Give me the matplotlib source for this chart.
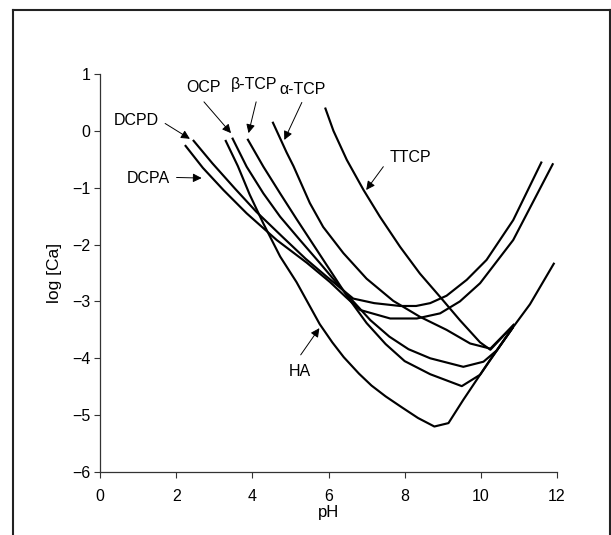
import numpy as np
import matplotlib
matplotlib.use('Agg')
import matplotlib.pyplot as plt
from matplotlib.lines import Line2D

plt.rcParams['font.family'] = ['Liberation Sans', 'DejaVu Sans']
plt.rcParams['font.size'] = 11.5

# solubility isotherms (pH, log[Ca])
ph_dcpd = [2.44, 2.95, 3.55, 4.10, 4.80, 5.40, 5.98, 6.65, 7.20, 7.88, 8.30, 8.67, 9.10, 9.63, 10.15, 10.85, 11.60]
ca_dcpd = [-0.16, -0.57, -1.02, -1.42, -1.87, -2.25, -2.58, -2.95, -3.03, -3.08, -3.08, -3.03, -2.90, -2.62, -2.27, -1.57, -0.54]

ph_dcpa = [2.23, 2.70, 3.24, 3.85, 4.64, 5.43, 6.04, 6.45, 6.83, 7.62, 8.32, 8.93, 9.45, 9.98, 10.85, 11.90]
ca_dcpa = [-0.25, -0.65, -1.04, -1.45, -1.92, -2.32, -2.66, -2.92, -3.15, -3.30, -3.30, -3.21, -3.00, -2.68, -1.92, -0.57]

ph_ocp = [3.47, 3.85, 4.29, 4.73, 5.25, 5.78, 6.22, 6.65, 7.10, 7.60, 8.10, 8.67, 9.54, 10.07, 10.42, 10.85]
ca_ocp = [-0.12, -0.63, -1.10, -1.51, -1.92, -2.33, -2.68, -3.00, -3.33, -3.62, -3.84, -4.00, -4.15, -4.06, -3.86, -3.45]

ph_btcp = [3.87, 4.29, 4.73, 5.16, 5.60, 6.04, 6.50, 7.00, 7.50, 8.00, 8.67, 9.50, 9.98, 10.30, 10.85]
ca_btcp = [-0.14, -0.63, -1.10, -1.55, -2.00, -2.45, -2.92, -3.38, -3.75, -4.05, -4.28, -4.49, -4.29, -3.98, -3.45]

ph_atcp = [4.53, 4.90, 5.08, 5.51, 5.86, 6.39, 7.00, 7.70, 8.40, 9.10, 9.72, 10.25, 10.88]
ca_atcp = [0.16, -0.38, -0.62, -1.27, -1.69, -2.15, -2.60, -2.99, -3.27, -3.50, -3.74, -3.83, -3.40]

ph_ttcp = [5.91, 6.13, 6.48, 6.92, 7.35, 7.88, 8.40, 8.93, 9.45, 9.98, 10.25, 10.88]
ca_ttcp = [0.41, 0.00, -0.51, -1.04, -1.51, -2.04, -2.51, -2.92, -3.33, -3.72, -3.85, -3.40]

ph_ha = [3.29, 3.62, 3.93, 4.29, 4.73, 5.16, 5.77, 6.10, 6.40, 6.80, 7.13, 7.50, 7.92, 8.35, 8.78, 9.15, 9.54, 10.24, 10.85, 11.29, 11.93]
ca_ha = [-0.16, -0.62, -1.12, -1.63, -2.21, -2.66, -3.40, -3.72, -3.98, -4.27, -4.48, -4.67, -4.86, -5.05, -5.20, -5.14, -4.73, -4.03, -3.45, -3.05, -2.32]

curves = [(ph_dcpd, ca_dcpd), (ph_dcpa, ca_dcpa), (ph_ocp, ca_ocp), (ph_btcp, ca_btcp),
          (ph_atcp, ca_atcp), (ph_ttcp, ca_ttcp), (ph_ha, ca_ha)]

# label text position, arrow tail, arrow tip
labels = ['DCPD', 'DCPA', 'OCP', 'β-TCP', 'α-TCP', 'TTCP', 'HA']
label_xy = [(0.95, 0.19), (1.27, -0.83), (2.73, 0.77), (4.04, 0.81), (5.33, 0.72), (8.14, -0.46), (5.25, -4.24)]
arrow_from = [(1.71, 0.13), (2.01, -0.82), (2.73, 0.51), (4.10, 0.51), (5.30, 0.50), (7.44, -0.63), (5.27, -3.94)]
arrow_to = [(2.36, -0.14), (2.67, -0.83), (3.44, -0.04), (3.90, -0.04), (4.84, -0.16), (6.99, -1.04), (5.76, -3.47)]

fig = plt.figure(figsize=(6.11, 5.35), dpi=100)
ax = fig.add_axes([100/611, 1 - 472/535, 457/611, 398/535])

for x, y in curves:
    ax.plot(x, y, color='black', lw=1.55, solid_joinstyle='round', solid_capstyle='butt')

for lab, pos, a, b in zip(labels, label_xy, arrow_from, arrow_to):
    ax.text(pos[0], pos[1], lab, ha='center', va='center')
    ax.annotate('', xy=b, xytext=a,
                arrowprops=dict(arrowstyle='-|>', color='black', lw=0.7,
                                mutation_scale=13, shrinkA=0, shrinkB=0))

ax.set_xlim(0, 12)
ax.set_ylim(-6, 1)
ax.set_xticks(np.arange(0, 13, 2))
ax.set_yticks(np.arange(-6, 2, 1))
ax.set_yticklabels(['\u22126', '\u22125', '\u22124', '\u22123', '\u22122', '\u22121', '0', '1'])
ax.set_xlabel('pH', labelpad=1, fontsize=12)
ax.set_ylabel('log [Ca]', labelpad=7, fontsize=12.5)
for s in ['top', 'right']:
    ax.spines[s].set_visible(False)
for s in ['left', 'bottom']:
    ax.spines[s].set_color('#333333')
    ax.spines[s].set_linewidth(0.9)
ax.tick_params(axis='both', direction='out', length=4, width=0.8, color='#333333')
ax.tick_params(axis='x', pad=8)
ax.tick_params(axis='y', pad=3)

# frame around the figure (cropped at the bottom)
fig.add_artist(Line2D([12.5/611, 609.5/611], [1 - 10/535, 1 - 10/535], color='#222222', lw=1.5))
fig.add_artist(Line2D([12.5/611, 12.5/611], [0, 1 - 10/535], color='#222222', lw=1.5))
fig.add_artist(Line2D([609.5/611, 609.5/611], [0, 1 - 10/535], color='#222222', lw=1.5))

fig.savefig('out.png', dpi=100)
